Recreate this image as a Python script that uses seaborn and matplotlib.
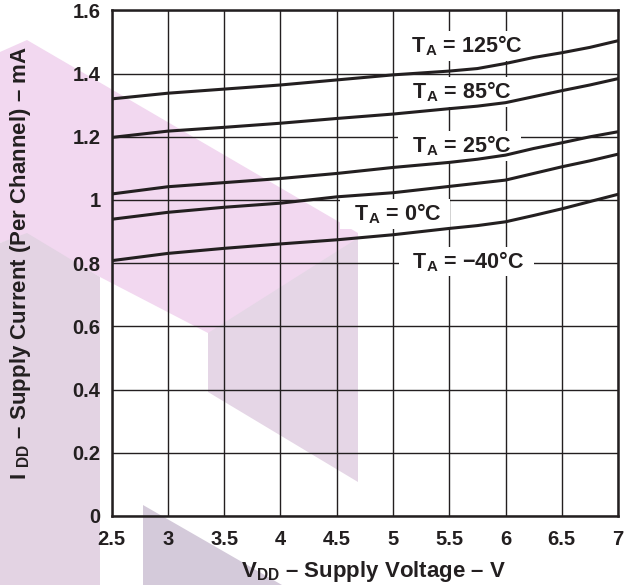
import numpy as np
import pandas as pd
import seaborn as sns
import matplotlib.pyplot as plt
from matplotlib.patches import Polygon

# supply voltage (V) and supply current per channel (mA)
vdd = [2.5, 3.0, 3.5, 4.0, 4.5, 5.0, 5.5, 5.75, 6.0, 6.25, 6.5, 6.75, 7.0]
idd_125 = [1.320, 1.338, 1.351, 1.364, 1.380, 1.396, 1.408, 1.416, 1.432, 1.451, 1.466, 1.483, 1.504]
idd_85 = [1.198, 1.218, 1.230, 1.243, 1.258, 1.272, 1.289, 1.297, 1.308, 1.327, 1.346, 1.364, 1.384]
idd_25 = [1.019, 1.042, 1.055, 1.068, 1.084, 1.103, 1.119, 1.129, 1.142, 1.163, 1.181, 1.200, 1.216]
idd_0 = [0.939, 0.961, 0.977, 0.990, 1.010, 1.023, 1.043, 1.053, 1.063, 1.084, 1.105, 1.124, 1.145]
idd_m40 = [0.808, 0.831, 0.847, 0.861, 0.874, 0.890, 0.910, 0.919, 0.931, 0.951, 0.972, 0.995, 1.018]

temps = ['125', '85', '25', '0', '-40']
curve_labels = ['125°C', '85°C', '25°C', '0°C', '\u221240°C']
label_x = [5.64, 5.59, 5.59, 5.02, 5.65]
label_y = [1.487, 1.343, 1.171, 0.956, 0.805]

xticks = [2.5, 3, 3.5, 4, 4.5, 5, 5.5, 6, 6.5, 7]
xtick_labels = ['2.5', '3', '3.5', '4', '4.5', '5', '5.5', '6', '6.5', '7']
yticks = [0, 0.2, 0.4, 0.6, 0.8, 1.0, 1.2, 1.4, 1.6]
ytick_labels = ['0', '0.2', '0.4', '0.6', '0.8', '1', '1.2', '1.4', '1.6']

rows = []
for t, vals in zip(temps, [idd_125, idd_85, idd_25, idd_0, idd_m40]):
    for v, i in zip(vdd, vals):
        rows.append([t, v, i])
df = pd.DataFrame(rows, columns=['Temp', 'VDD', 'IDD'])

sns.set_style('white')
plt.rcParams['font.family'] = ['Liberation Sans', 'DejaVu Sans']
plt.rcParams['font.weight'] = 'bold'
plt.rcParams['mathtext.fontset'] = 'custom'
plt.rcParams['mathtext.rm'] = 'Liberation Sans:bold'
plt.rcParams['mathtext.default'] = 'rm'

ink = '#231f20'

fig = plt.figure(figsize=(6.34, 5.85), dpi=100)

# faint watermark shapes behind the chart (pixel coords)
bg = fig.add_axes([0, 0, 1, 1], zorder=0)
bg.set_xlim(0, 634)
bg.set_ylim(585, 0)
bg.axis('off')
pink = [(0, 52), (27, 40), (358, 233), (358, 420), (208, 333), (100, 277), (27, 235), (0, 243)]
hexa = [(208, 333), (358, 238), (358, 482), (208, 392)]
left_band = [(0, 243), (27, 233), (100, 277), (100, 585), (0, 585)]
tri = [(143, 505), (143, 585), (282, 585)]
bg.add_patch(Polygon(pink, closed=True, fc='#f2d8f0', ec='none'))
bg.add_patch(Polygon(hexa, closed=True, fc='#e5d6e6', ec='none'))
bg.add_patch(Polygon(left_band, closed=True, fc='#e3d3e3', ec='none'))
bg.add_patch(Polygon(tri, closed=True, fc='#d4cada', ec='none'))

ax = fig.add_axes([0.1762, 0.118, 0.7986, 0.8642], zorder=1)
ax.set_facecolor('none')

sns.lineplot(data=df, x='VDD', y='IDD', hue='Temp', hue_order=temps,
             palette=[ink] * 5, linewidth=2.2, legend=False, ax=ax, zorder=4)

for lab, lx, ly in zip(curve_labels, label_x, label_y):
    ax.text(lx, ly, '  T$_{A}$ = ' + lab + '  ', ha='center', va='center',
            fontsize=15.5, fontweight='bold', color=ink, zorder=3,
            bbox=dict(boxstyle='square,pad=0.12', fc='white', ec='none'))

ax.set_xlim(2.5, 7)
ax.set_ylim(0, 1.6)
ax.set_xticks(xticks)
ax.set_xticklabels(xtick_labels)
ax.set_yticks(yticks)
ax.set_yticklabels(ytick_labels)
ax.tick_params(length=0, labelsize=14.5, colors=ink)
ax.tick_params(axis='x', pad=10)
ax.tick_params(axis='y', pad=8)
for lbl in ax.get_xticklabels() + ax.get_yticklabels():
    lbl.set_fontweight('bold')

ax.grid(True, color=ink, linewidth=1.0)
ax.set_axisbelow(True)
for s in ax.spines.values():
    s.set_color(ink)
    s.set_linewidth(1.8)
    s.set_zorder(5)

ax.set_xlabel('V$_{DD}$ \u2013 Supply Voltage \u2013 V', fontsize=16, fontweight='bold', color=ink)
ax.set_ylabel('I $_{DD}$ \u2013 Supply Current (Per Channel) \u2013 mA', fontsize=16,
              fontweight='bold', color=ink)
ax.xaxis.set_label_coords(0.518, -0.085)
ax.yaxis.set_label_coords(-0.155, 0.5)

fig.savefig('out.png', dpi=100)
